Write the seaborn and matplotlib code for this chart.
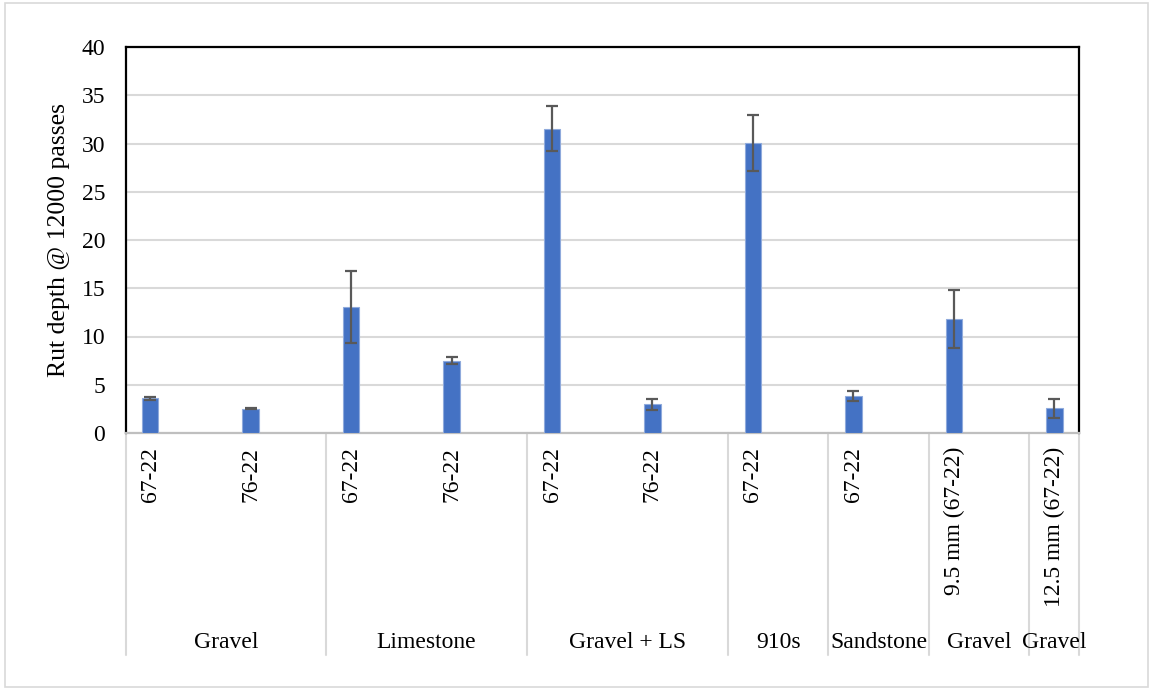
import matplotlib
matplotlib.use("Agg")
import matplotlib.pyplot as plt
import seaborn as sns
import pandas as pd
from matplotlib.patches import Rectangle

# Rut depth results by aggregate type and binder grade
materials = ["Gravel", "Gravel", "Limestone", "Limestone", "Gravel + LS",
             "Gravel + LS", "910s", "Sandstone", "Gravel", "Gravel"]
binders = ["67-22", "76-22", "67-22", "76-22", "67-22", "76-22", "67-22",
           "67-22", "9.5 mm (67-22)", "12.5 mm (67-22)"]
rut_depth = [3.6, 2.5, 13.05, 7.5, 31.55, 3.0, 30.05, 3.84, 11.8, 2.57]
rut_err = [0.17, 0.05, 3.72, 0.37, 2.35, 0.57, 2.9, 0.52, 3.0, 0.98]
y_ticks = [0, 5, 10, 15, 20, 25, 30, 35, 40]

df = pd.DataFrame({
    "mix": [f"{m}|{b}|{i}" for i, (m, b) in enumerate(zip(materials, binders))],
    "material": materials,
    "binder": binders,
    "rut": rut_depth,
    "err": rut_err,
})

sns.set_theme(style="white")
plt.rcParams["font.family"] = ["Liberation Serif", "DejaVu Serif"]

W, H = 1154, 690
fig = plt.figure(figsize=(W / 100, H / 100), dpi=100)
ax = fig.add_axes([126 / W, 1 - 433 / H, (1079 - 126) / W, (433 - 47) / H])

bar_color = "#4472C4"
sns.barplot(data=df, x="mix", y="rut", order=list(df["mix"]), color=bar_color,
            width=0.16, errorbar=None, saturation=1, ax=ax,
            edgecolor="#8FAADC", linewidth=0.8, zorder=3)

xs = list(range(len(df)))
ax.errorbar(xs, df["rut"], yerr=df["err"], fmt="none", ecolor="#595959",
            elinewidth=1.6, capsize=4.3, capthick=1.6, zorder=4)

ax.set_xlim(-0.239, 9.244)
ax.set_ylim(0, 40)
ax.set_yticks(y_ticks)
ax.yaxis.grid(True, color="#D9D9D9", linewidth=1.5, zorder=0)
ax.xaxis.grid(False)
ax.set_axisbelow(True)

ax.tick_params(axis="y", length=0, pad=15, labelsize=17, labelcolor="black")
ax.set_xticks(xs)
ax.set_xticklabels(df["binder"], rotation=90, fontsize=17, va="top")
ax.tick_params(axis="x", length=0, pad=10, labelcolor="black")
ax.set_xlabel("")
ax.set_ylabel("Rut depth @ 12000 passes", fontsize=18.5, color="black")
ax.yaxis.set_label_coords(-0.059, 0.5)

for side in ("left", "top", "right"):
    ax.spines[side].set_color("black")
    ax.spines[side].set_linewidth(1.6)
ax.spines["bottom"].set_color("#BFBFBF")
ax.spines["bottom"].set_linewidth(1.6)

# Group labels and separators under the category axis
trans = ax.get_xaxis_transform()
x_lo, x_hi = ax.get_xlim()
runs = []
start = 0
for i in range(1, len(materials) + 1):
    if i == len(materials) or materials[i] != materials[start] or binders[i].startswith(("9.5", "12.5")) or binders[i - 1].startswith(("9.5", "12.5")):
        runs.append((materials[start], start, i - 1))
        start = i
sep_bottom = -0.575
bounds = set()
for name, a, b in runs:
    left = max(a - 0.25, x_lo)
    right = min(b + 0.75, x_hi)
    bounds.update([left, right])
    ax.text((left + right) / 2, -0.557, name, transform=trans, ha="center",
            va="baseline", fontsize=17, color="black", clip_on=False)
for xb in sorted(bounds):
    ax.plot([xb, xb], [0, sep_bottom], transform=trans, color="#D9D9D9",
            linewidth=1.5, clip_on=False, zorder=1)

# Outer chart border
fig.patches.append(Rectangle((5 / W, 3 / H), (1148 - 5) / W, (687 - 3) / H,
                             transform=fig.transFigure, fill=False,
                             edgecolor="#D9D9D9", linewidth=1.2))

fig.savefig("out.png", dpi=100, facecolor="white")
